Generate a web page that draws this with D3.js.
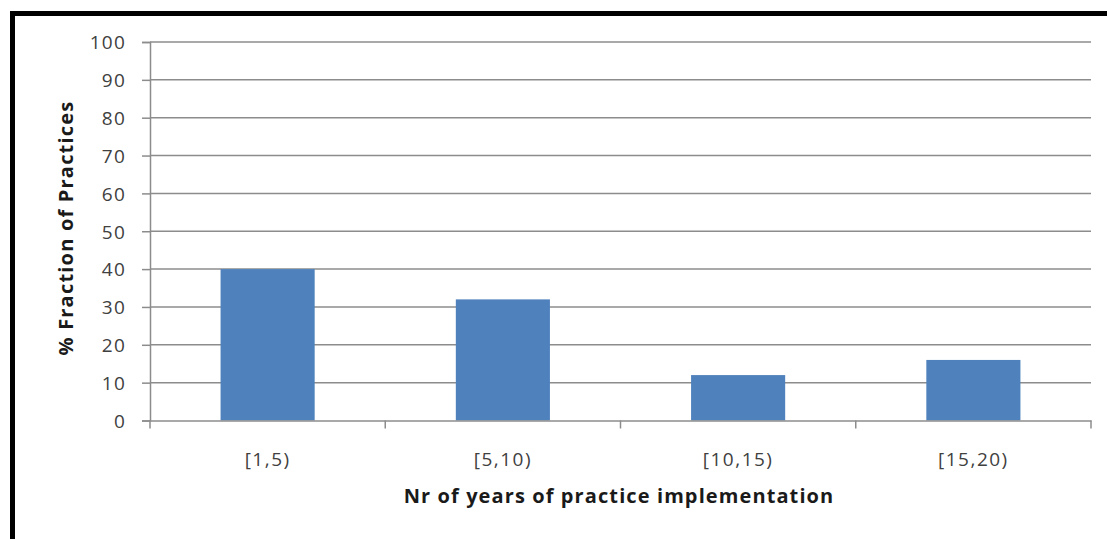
<!DOCTYPE html>
<html><head><meta charset="utf-8">
<script src="https://cdn.jsdelivr.net/npm/d3@7"></script>
<style>
html,body{margin:0;padding:0;background:#fff;}
svg{display:block;}
text{font-family:"Open Sans","Noto Sans",sans-serif;}
</style></head>
<body>
<svg id="chart" width="1107" height="539"></svg>
<script>
const categories = ["[1,5)", "[5,10)", "[10,15)", "[15,20)"];
const values = [40, 32, 12, 16];
const yTicks = [0, 10, 20, 30, 40, 50, 60, 70, 80, 90, 100];
const xTitle = "Nr of years of practice implementation";
const yTitle = "% Fraction of Practices";

const svg = d3.select("#chart");
const W = 1107, H = 539;
const mLeft = 150, mRight = 1091, mTop = 42, mBottom = 420.5;

// border (top and left)
svg.append("rect").attr("x", 0).attr("y", 0).attr("width", W).attr("height", H).attr("fill", "#fff");
svg.append("line").attr("x1", 10).attr("x2", W).attr("y1", 13.5).attr("y2", 13.5).attr("stroke", "#000").attr("stroke-width", 5);
svg.append("line").attr("x1", 12.5).attr("x2", 12.5).attr("y1", 11).attr("y2", H).attr("stroke", "#000").attr("stroke-width", 5);

const x = d3.scaleBand().domain(categories).range([mLeft, mRight]).padding(0);
const y = d3.scaleLinear().domain([0, 100]).range([mBottom, mTop]);

// gridlines
svg.append("g").selectAll("line").data(yTicks.filter(d => d > 0)).join("line")
  .attr("x1", mLeft).attr("x2", mRight)
  .attr("y1", d => y(d)).attr("y2", d => y(d))
  .attr("stroke", "#8c8c8c").attr("stroke-width", 1.5);

// bars
const bw = x.bandwidth() * 0.4;
svg.append("g").selectAll("rect").data(values).join("rect")
  .attr("x", (d, i) => x(categories[i]) + x.bandwidth() / 2 - bw / 2)
  .attr("y", d => y(d))
  .attr("width", bw)
  .attr("height", d => y(0) - y(d))
  .attr("fill", "#4f81bd");

// y axis
const yAxis = d3.axisLeft(y).tickValues(yTicks).tickSize(8).tickPadding(16);
const gy = svg.append("g").attr("transform", `translate(${mLeft},0)`).call(yAxis);
gy.select(".domain").attr("stroke", "#8c8c8c").attr("stroke-width", 1.5);
gy.selectAll(".tick line").attr("stroke", "#8c8c8c").attr("stroke-width", 1.5);
gy.selectAll(".tick text").attr("fill", "#404040").attr("dy", "0.36em")
  .style("font-size", "19px").style("letter-spacing", "1.2px").style("font-family", "Open Sans, sans-serif");

// x axis
const xAxis = d3.axisBottom(x).tickSize(0).tickPadding(32);
const gx = svg.append("g").attr("transform", `translate(0,${mBottom})`).call(xAxis);
gx.select(".domain").attr("stroke", "#8c8c8c").attr("stroke-width", 1.5);
gx.selectAll(".tick text").attr("fill", "#404040")
  .style("font-size", "19px").style("letter-spacing", "1.5px").style("font-family", "Open Sans, sans-serif");
// x category boundary ticks
const bounds = categories.map(c => x(c)).concat([mRight]);
gx.append("g").selectAll("line").data(bounds).join("line")
  .attr("x1", d => d).attr("x2", d => d).attr("y1", 0).attr("y2", 8)
  .attr("stroke", "#8c8c8c").attr("stroke-width", 1.5);

// titles
svg.append("text").attr("x", 619).attr("y", 503)
  .attr("text-anchor", "middle").attr("font-weight", "bold").attr("font-size", 20).attr("fill", "#1a1a1a")
  .style("letter-spacing", "1.1px")
  .text(xTitle);
svg.append("text").attr("transform", `translate(73,228) rotate(-90)`)
  .attr("text-anchor", "middle").attr("font-weight", "bold").attr("font-size", 20).attr("fill", "#1a1a1a")
  .style("letter-spacing", "1.2px")
  .text(yTitle);
</script>
</body></html>
